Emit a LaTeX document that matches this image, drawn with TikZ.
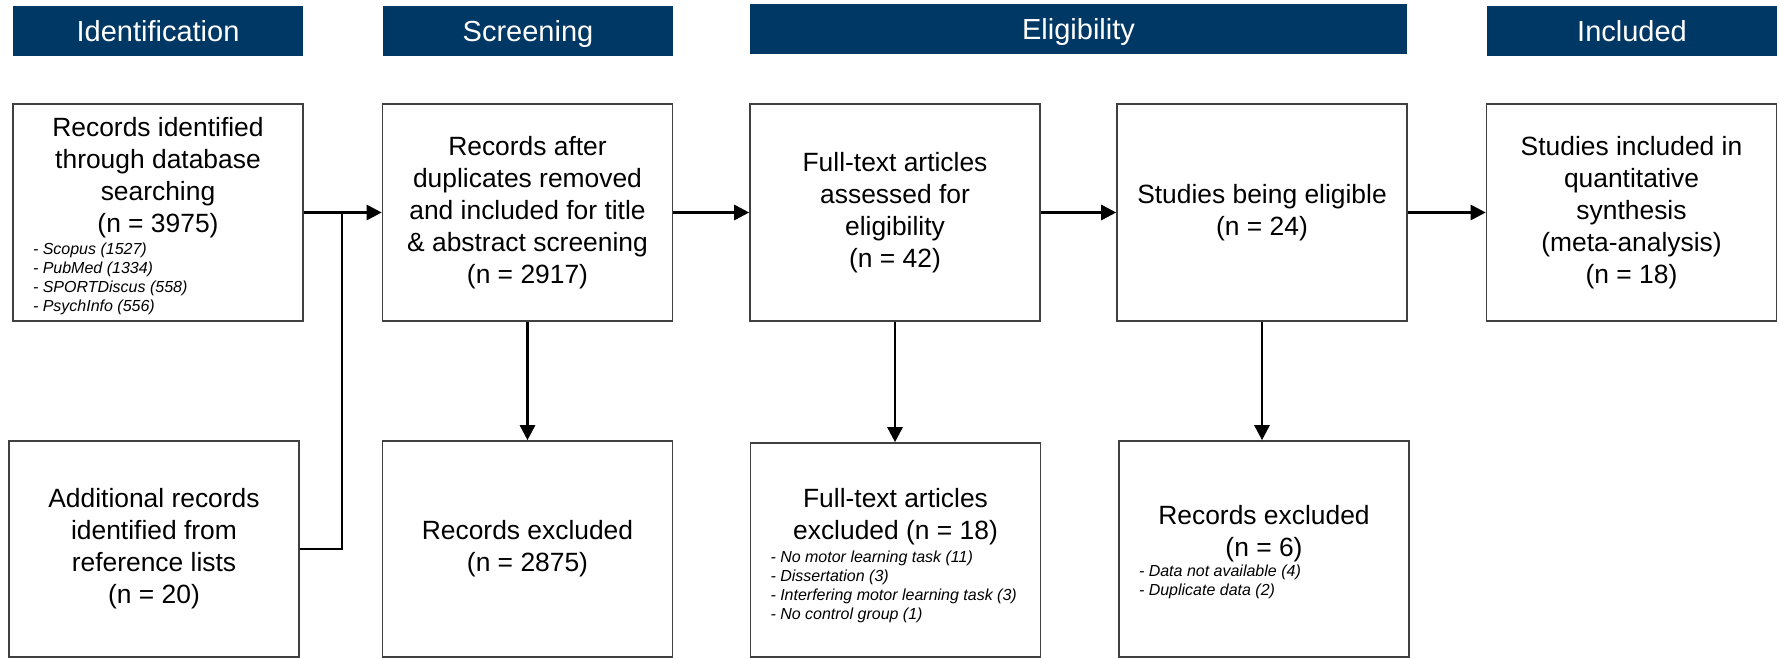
\documentclass[tikz,border=0pt]{standalone}
\usepackage{fontspec}
\setmainfont{Liberation Sans}
\usepackage{xcolor}
\definecolor{stageblue}{RGB}{0,56,101}
\definecolor{boxgray}{RGB}{64,64,64}
\usetikzlibrary{arrows.meta}
\newcommand{\stagefont}{\fontsize{29}{34}\selectfont}
\newcommand{\boxfont}{\fontsize{26.4}{32}\selectfont}
\newcommand{\listfont}{\fontsize{16}{19}\selectfont\itshape}
\newcommand{\sourcelist}[1]{\makebox[250pt][l]{\listfont\begin{tabular}[t]{@{}l@{}}#1\end{tabular}}}
\tikzset{
    stage/.style={fill=stageblue, text=white, font=\stagefont, minimum height=50, minimum width=290, inner sep=0pt, text height=25.4pt, text depth=4pt},
    box/.style={draw=boxgray, line width=1.6pt, minimum width=290, minimum height=217, inner sep=0pt, font=\boxfont, align=center},
    flow/.style={-{Triangle[length=15pt, width=15pt]}, line width=2.7pt},
    feed/.style={line width=1.5pt}
}

\begin{document}
\begin{tikzpicture}[x=1pt, y=-1pt]
    \useasboundingbox (0,0) rectangle (1779,658);

    \node[stage] (id-head) at (158,31) {Identification};
    \node[stage] (scr-head) at (528,31) {Screening};
    \node[stage, minimum width=657] (elig-head) at (1078.5,29) {Eligibility};
    \node[stage] (incl-head) at (1632,31) {Included};

    \node[box] (id-db) at (158,212.5) {\rule{0pt}{29pt}Records identified\\ through database\\ searching\\ (n = 3975)\\[-10pt]
        \sourcelist{- Scopus (1527)\\ - PubMed (1334)\\ - SPORTDiscus (558)\\ - PsychInfo (556)}};
    \node[box, minimum height=216] (id-extra) at (154,549) {Additional records\\ identified from\\ reference lists\\ (n = 20)};
    \coordinate (id-join) at (342,212.5);

    \node[box] (scr-dedup) at (527.5,212.5) {Records after\\ duplicates removed\\ and included for title\\ \& abstract screening\\ (n = 2917)};
    \node[box, minimum height=216] (scr-excl) at (527.5,549) {Records excluded\\ (n = 2875)};

    \node[box] (elig-full) at (895,212.5) {Full-text articles\\ assessed for\\ eligibility\\ (n = 42)};
    \node[box, minimum height=214] (elig-fullexcl) at (895.5,550) {\rule{0pt}{33pt}Full-text articles\\ excluded (n = 18)\\[-9pt]
        \sourcelist{- No motor learning task (11)\\ - Dissertation (3)\\ - Interfering motor learning task (3)\\ - No control group (1)}};
    \node[box] (elig-ok) at (1262,212.5) {Studies being eligible\\ (n = 24)};
    \node[box, minimum height=216] (elig-excl) at (1264,549) {\rule{0pt}{27pt}Records excluded\\ (n = 6)\\[-12pt]
        \sourcelist{- Data not available (4)\\ - Duplicate data (2)}};

    \node[box] (incl-meta) at (1631.5,212.5) {Studies included in\\ quantitative\\ synthesis\\ (meta-analysis)\\ (n = 18)};

    \draw[feed] (id-extra.east) -| (id-join);
    \draw[flow] (id-db) -- (scr-dedup);
    \draw[flow] (scr-dedup) -- (elig-full);
    \draw[flow] (elig-full) -- (elig-ok);
    \draw[flow] (elig-ok) -- (incl-meta);
    \draw[flow] (scr-dedup) -- (scr-dedup |- scr-excl.north);
    \draw[flow] (elig-full) -- (elig-full |- elig-fullexcl.north);
    \draw[flow] (elig-ok) -- (elig-ok |- elig-excl.north);
\end{tikzpicture}
\end{document}
